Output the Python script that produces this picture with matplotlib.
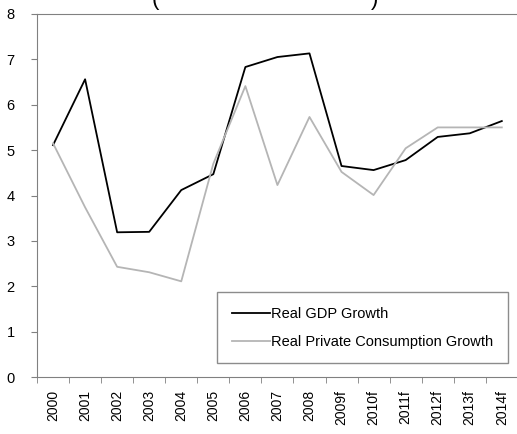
import matplotlib
matplotlib.use("Agg")
import matplotlib.pyplot as plt
import numpy as np

plt.rcParams['font.family'] = ['Liberation Sans', 'DejaVu Sans']

years = ["2000", "2001", "2002", "2003", "2004", "2005", "2006", "2007",
         "2008", "2009f", "2010f", "2011f", "2012f", "2013f", "2014f"]
gdp = [5.11, 6.56, 3.19, 3.2, 4.12, 4.47, 6.83, 7.05, 7.13, 4.65, 4.56,
       4.78, 5.29, 5.37, 5.64]
consumption = [5.15, 3.74, 2.43, 2.31, 2.11, 4.7, 6.41, 4.23, 5.73, 4.52,
               4.01, 5.04, 5.5, 5.5, 5.5]

fig = plt.figure(figsize=(5.17, 4.34), dpi=100)
ax = fig.add_axes([0.0716, 0.131, 0.93, 0.837])

x = np.arange(len(years))
ax.plot(x, gdp, color="black", lw=1.3, label="Real GDP Growth")
ax.plot(x, consumption, color="#b5b5b5", lw=1.3,
        label="Real Private Consumption Growth")

ax.set_xlim(-0.5, len(years) - 0.5)
ax.set_ylim(0, 8)
ax.set_yticks(range(9))
ax.set_xticks(x)
ax.set_xticklabels(years, rotation=90, fontsize=10)
ax.set_xticks(np.arange(-0.5, len(years), 1), minor=True)
ax.tick_params(axis="x", which="major", length=0, pad=9)
ax.tick_params(axis="x", which="minor", length=4, color="#808080")
ax.tick_params(axis="y", length=4, color="#808080", labelsize=10.5, pad=12)

for s in ["left", "bottom", "top"]:
    ax.spines[s].set_color("#808080")
ax.spines["right"].set_visible(False)

leg = ax.legend(loc="lower right", bbox_to_anchor=(0.995, 0.018),
                fontsize=10.5, frameon=True, fancybox=False,
                edgecolor="#707070", handlelength=2.6, borderpad=1.0,
                labelspacing=0.95, handletextpad=0.1)
leg.get_frame().set_linewidth(1.0)

fig.text(0.3, 1.0, "(", fontsize=16, va="center", ha="center")
fig.text(0.725, 1.0, ")", fontsize=16, va="center", ha="center")

fig.savefig("out.png", dpi=100)
